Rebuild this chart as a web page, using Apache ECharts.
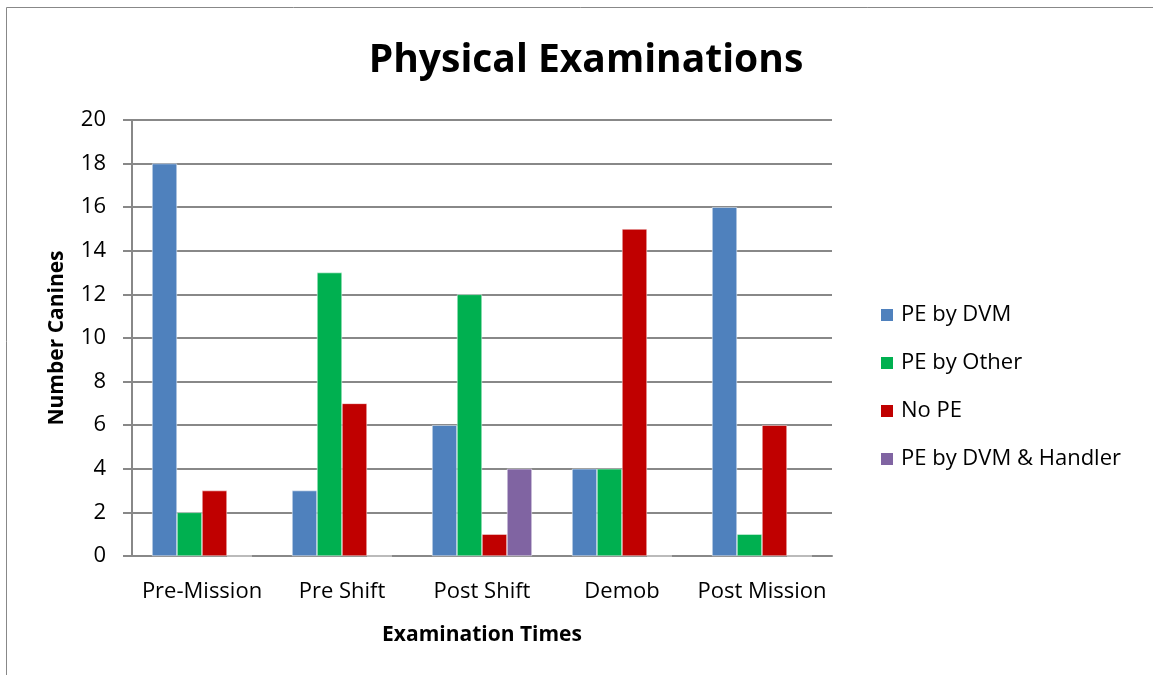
<!DOCTYPE html>
<html>
<head>
<meta charset="utf-8">
<script src="https://cdn.jsdelivr.net/npm/echarts@6/dist/echarts.min.js"></script>
<style>
  html, body { margin: 0; padding: 0; background: #fff; }
  #main { width: 1153px; height: 675px; }
</style>
</head>
<body>
<div id="main"></div>
<script>
let categories = ["Pre-Mission", "Pre Shift", "Post Shift", "Demob", "Post Mission"];
let peByDvm = [18, 3, 6, 4, 16];
let peByOther = [2, 13, 12, 4, 1];
let noPe = [3, 7, 1, 15, 6];
let peByDvmHandler = [0, 0, 4, 0, 0];
let yTicks = [0, 2, 4, 6, 8, 10, 12, 14, 16, 18, 20];

let font = "'Open Sans', sans-serif";
let myChart = echarts.init(document.getElementById("main"));

function bar(name, data, color) {
  return {
    name: name,
    type: "bar",
    data: data,
    barGap: "0%",
    barCategoryGap: "28.6%",
    itemStyle: { color: color, borderColor: "#fff", borderWidth: 0.5 }
  };
}

let option = {
  animation: false,
  backgroundColor: "#fff",
  title: {
    text: "Physical Examinations",
    left: 581,
    top: 36,
    textAlign: "center",
    textStyle: { fontFamily: font, fontSize: 39, fontWeight: "bold", color: "#000" }
  },
  graphic: [
    {
      type: "rect",
      shape: { x: 6.5, y: 7.5, width: 1160, height: 700 },
      style: { fill: "none", stroke: "#888", lineWidth: 1 }
    }
  ],
  legend: {
    orient: "vertical",
    left: 874,
    top: 299,
    itemWidth: 14,
    itemHeight: 14,
    itemGap: 26,
    icon: "rect",
    textStyle: { fontFamily: font, fontSize: 22, color: "#000", padding: [0, 0, 0, 2] },
    data: ["PE by DVM", "PE by Other", "No PE", "PE by DVM & Handler"]
  },
  grid: { left: 132, right: 321, top: 120, bottom: 119 },
  xAxis: {
    type: "category",
    data: categories,
    name: "Examination Times",
    nameLocation: "middle",
    nameGap: 69,
    nameTextStyle: { fontFamily: font, fontSize: 21, fontWeight: "bold", color: "#000" },
    axisLine: { lineStyle: { color: "#888", width: 2 } },
    axisTick: { show: false },
    axisLabel: { fontFamily: font, fontSize: 22, color: "#000", margin: 25, interval: 0 }
  },
  yAxis: {
    type: "value",
    min: yTicks[0],
    max: yTicks[yTicks.length - 1],
    interval: 2,
    name: "Number Canines",
    nameLocation: "middle",
    nameGap: 64,
    nameTextStyle: { fontFamily: font, fontSize: 21, fontWeight: "bold", color: "#000" },
    axisLine: { show: true, lineStyle: { color: "#888", width: 2 } },
    axisTick: { show: true, length: 9, lineStyle: { color: "#888", width: 2 } },
    axisLabel: { fontFamily: font, fontSize: 22, color: "#000", margin: 26 },
    splitLine: { show: true, lineStyle: { color: "#888", width: 2 } }
  },
  series: [
    bar("PE by DVM", peByDvm, "#4F81BD"),
    bar("PE by Other", peByOther, "#00B050"),
    bar("No PE", noPe, "#C00000"),
    bar("PE by DVM & Handler", peByDvmHandler, "#8064A2")
  ]
};
myChart.setOption(option);
</script>
</body>
</html>
